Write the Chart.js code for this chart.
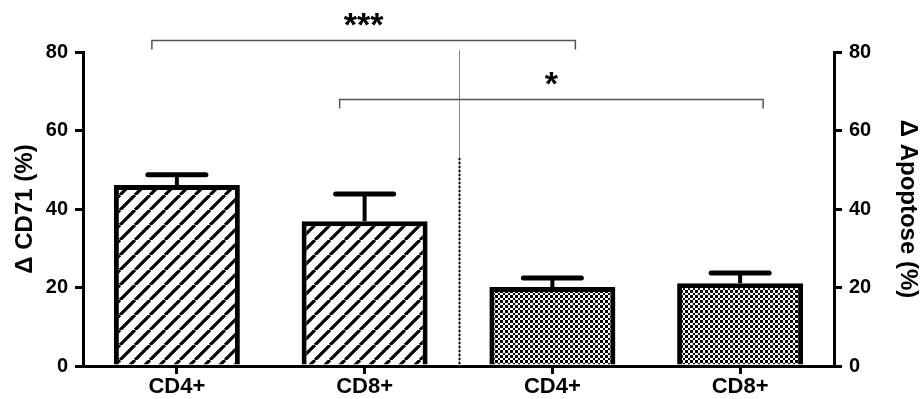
<!DOCTYPE html>
<html>
<head>
<meta charset="utf-8">
<script src="https://cdn.jsdelivr.net/npm/chart.js@4.4.1/dist/chart.umd.min.js"></script>
<style>
    html, body { margin: 0; padding: 0; background: #fff; }
</style>
</head>
<body>
<canvas id="barChart" width="920" height="399"></canvas>
<script>
// values
const categories = ['CD4+', 'CD8+', 'CD4+', 'CD8+'];
const meanValues = [46.1, 36.9, 20.1, 21.1];
const errorTops = [48.7, 43.8, 22.4, 23.7];
const yTicks = [0, 20, 40, 60, 80];
const bracketStart = [0, 1];
const bracketEnd = [2, 3];
const bracketLevel = [83.1, 68.0];
const bracketLabels = ['***', '*'];

const FONT = '"Liberation Sans", Arial, sans-serif';

function makeHatch() {
    const s = 15;
    const c = document.createElement('canvas');
    c.width = s;
    c.height = s;
    const g = c.getContext('2d');
    g.fillStyle = '#fff';
    g.fillRect(0, 0, s, s);
    g.strokeStyle = '#000';
    g.lineWidth = 3.2;
    g.beginPath();
    for (let k = -1; k <= 1; k++) {
        g.moveTo(k * s, s);
        g.lineTo(k * s + s, 0);
    }
    g.stroke();
    return g.createPattern(c, 'repeat');
}

function makeChecker() {
    const c = document.createElement('canvas');
    c.width = 10;
    c.height = 10;
    const g = c.getContext('2d');
    g.fillStyle = '#fff';
    g.fillRect(0, 0, 10, 10);
    g.fillStyle = '#000';
    const edges = [0, 3, 5, 8, 10];
    for (let i = 0; i < 4; i++) {
        for (let j = 0; j < 4; j++) {
            if ((i + j) % 2 === 0) {
                g.fillRect(edges[i], edges[j], edges[i + 1] - edges[i], edges[j + 1] - edges[j]);
            }
        }
    }
    return g.createPattern(c, 'repeat');
}

const hatch = makeHatch();
const checker = makeChecker();

const overlayPlugin = {
    id: 'overlay',
    afterDatasetsDraw(chart) {
        const ctx = chart.ctx;
        const x = chart.scales.x;
        const y = chart.scales.y;
        const area = chart.chartArea;
        ctx.save();

        // error bars (upper only)
        ctx.strokeStyle = '#000';
        meanValues.forEach(function(v, i) {
            const cx = x.getPixelForValue(i);
            const yTop = y.getPixelForValue(errorTops[i]);
            ctx.lineWidth = 4;
            ctx.lineCap = 'butt';
            ctx.beginPath();
            ctx.moveTo(cx, y.getPixelForValue(v));
            ctx.lineTo(cx, yTop);
            ctx.stroke();
            ctx.lineWidth = 5;
            ctx.lineCap = 'round';
            ctx.beginPath();
            ctx.moveTo(cx - 29, yTop);
            ctx.lineTo(cx + 29, yTop);
            ctx.stroke();
        });

        // divider between the two panels
        const midX = Math.round((x.getPixelForValue(1) + x.getPixelForValue(2)) / 2) + 0.5;
        ctx.lineCap = 'butt';
        ctx.strokeStyle = '#888';
        ctx.lineWidth = 1;
        ctx.beginPath();
        ctx.moveTo(midX, area.top - 2);
        ctx.lineTo(midX, area.bottom);
        ctx.stroke();
        ctx.strokeStyle = '#000';
        ctx.lineWidth = 2;
        ctx.setLineDash([2, 2]);
        ctx.beginPath();
        ctx.moveTo(midX, y.getPixelForValue(53));
        ctx.lineTo(midX, area.bottom);
        ctx.stroke();
        ctx.setLineDash([]);

        // significance brackets
        ctx.strokeStyle = '#555';
        ctx.lineWidth = 1.5;
        ctx.fillStyle = '#000';
        ctx.font = 'bold 34px ' + FONT;
        ctx.textAlign = 'center';
        ctx.textBaseline = 'alphabetic';
        bracketLabels.forEach(function(label, i) {
            const x1 = x.getPixelForValue(bracketStart[i]) - 25;
            const x2 = x.getPixelForValue(bracketEnd[i]) + 23;
            const yb = Math.round(y.getPixelForValue(bracketLevel[i])) + 0.5;
            ctx.beginPath();
            ctx.moveTo(x1, yb + 9);
            ctx.lineTo(x1, yb);
            ctx.lineTo(x2, yb);
            ctx.lineTo(x2, yb + 9);
            ctx.stroke();
            ctx.fillText(label, (x1 + x2) / 2, yb - 5);
        });

        ctx.restore();
    }
};

const tickFont = { family: FONT, size: 20, weight: 'bold' };
const titleFont = { family: FONT, size: 24, weight: 'bold', lineHeight: 1 };

function yAxis(position, title, width, titlePad) {
    return {
        position: position,
        min: 0,
        max: 80,
        afterBuildTicks: function(scale) {
            scale.ticks = yTicks.map(function(v) { return { value: v }; });
        },
        ticks: { color: '#000', font: tickFont, padding: 7 },
        grid: { drawOnChartArea: false, tickLength: 8, lineWidth: 3, color: '#000' },
        border: { display: true, width: 3, color: '#000' },
        title: { display: true, text: title, color: '#000', font: titleFont, padding: { top: titlePad, bottom: 0 } },
        afterFit: function(scale) { scale.width = width; }
    };
}

new Chart(document.getElementById('barChart'), {
    type: 'bar',
    data: {
        labels: categories,
        datasets: [{
            data: meanValues,
            backgroundColor: [hatch, hatch, checker, checker],
            borderColor: '#000',
            borderWidth: 5,
            borderSkipped: 'start',
            categoryPercentage: 1,
            barPercentage: 0.671
        }]
    },
    options: {
        responsive: false,
        animation: false,
        devicePixelRatio: 1,
        layout: { padding: { top: 52, left: 0, right: 0, bottom: 0 } },
        plugins: {
            legend: { display: false },
            tooltip: { enabled: false }
        },
        scales: {
            x: {
                offset: true,
                grid: { drawOnChartArea: false, offset: false, tickLength: 8, lineWidth: 3, color: '#000' },
                border: { display: true, width: 3, color: '#000' },
                ticks: { color: '#000', font: { family: FONT, size: 22, weight: 'bold' }, padding: 0, maxRotation: 0 },
                afterFit: function(scale) { scale.height = 33; }
            },
            y: yAxis('left', 'Δ CD71 (%)', 83, 13),
            y2: yAxis('right', 'Δ Apoptose (%)', 86, 0)
        }
    },
    plugins: [overlayPlugin]
});
</script>
</body>
</html>
